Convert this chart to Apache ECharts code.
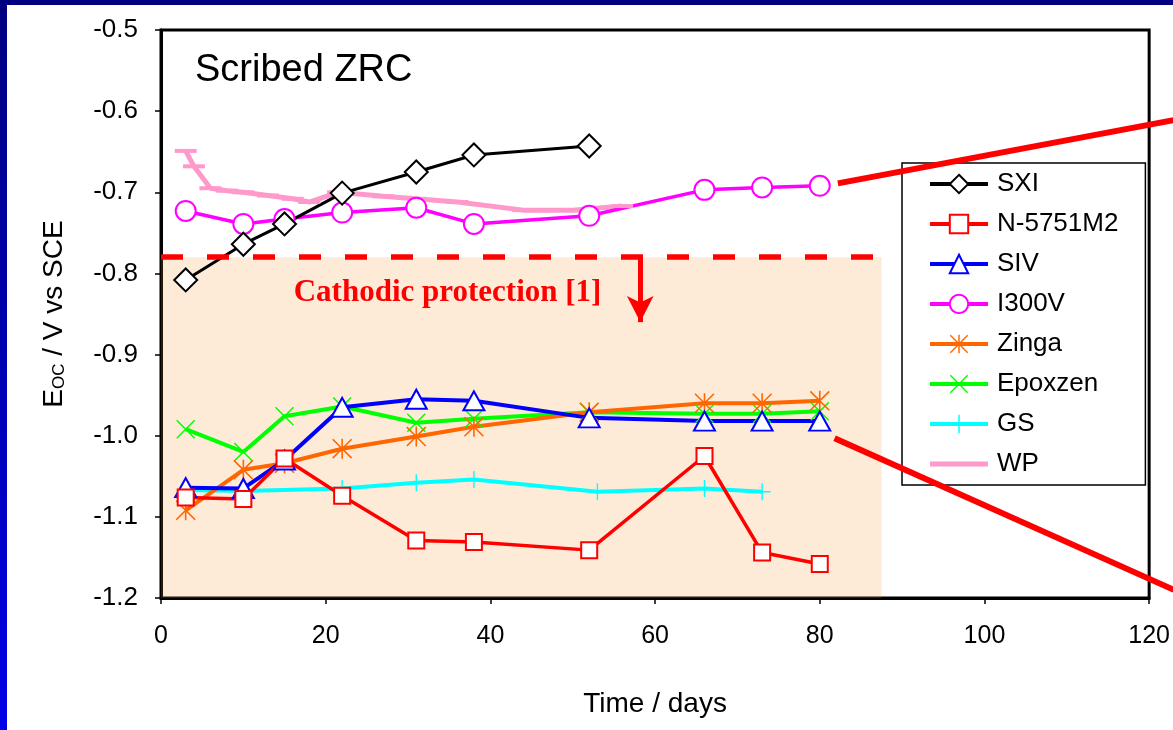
<!DOCTYPE html>
<html>
<head>
<meta charset="utf-8">
<title>Scribed ZRC</title>
<script src="https://cdn.jsdelivr.net/npm/echarts@6/dist/echarts.min.js"></script>
<style>
  html, body { margin: 0; padding: 0; background: #fff; }
  #chart { width: 1173px; height: 730px; }
</style>
</head>
<body>
<div id="chart"></div>
<script>
// open circuit potential vs time, [day, E / V vs SCE]
const sxi = [[3, -0.808], [10, -0.764], [15, -0.739], [22, -0.701], [31, -0.675], [38, -0.654], [52, -0.643]]
const n5751m2 = [[3, -1.076], [10, -1.078], [15, -1.028], [22, -1.074], [31, -1.129], [38, -1.131], [52, -1.141], [66, -1.025], [73, -1.144], [80, -1.158]]
const siv = [[3, -1.064], [10, -1.065], [15, -1.030], [22, -0.965], [31, -0.955], [38, -0.957], [52, -0.978], [66, -0.982], [73, -0.982], [80, -0.982]]
const i300v = [[3, -0.723], [10, -0.739], [15, -0.733], [22, -0.725], [31, -0.719], [38, -0.739], [52, -0.729], [66, -0.697], [73, -0.694], [80, -0.692]]
const zinga = [[3, -1.092], [10, -1.042], [15, -1.034], [22, -1.016], [31, -1.001], [38, -0.989], [52, -0.971], [66, -0.960], [73, -0.960], [80, -0.957]]
const epoxzen = [[3, -0.992], [10, -1.020], [15, -0.976], [22, -0.964], [31, -0.984], [38, -0.979], [52, -0.971], [66, -0.973], [73, -0.973], [80, -0.970]]
const gs = [[3, -1.067], [10, -1.068], [22, -1.065], [31, -1.058], [38, -1.054], [53, -1.069], [66, -1.065], [73, -1.069]]
const wp = [[3, -0.649], [4, -0.668], [6, -0.695], [8, -0.698], [10, -0.700], [13, -0.704], [16, -0.708], [18, -0.712], [21.5, -0.700], [27, -0.705], [36, -0.712], [44, -0.722], [50, -0.722], [56, -0.717]]

const legendNames = ['SXI', 'N-5751M2', 'SIV', 'I300V', 'Zinga', 'Epoxzen', 'GS', 'WP']

// cathodic protection zone
const cpLevel = -0.78
const cpRight = 87.5
const arrowX = 58.2
const arrowEnd = -0.86
const cpLabelAt = [34.8, -0.824]
// zoom callout lines going off to the right
const calloutTop = [[82.2, -0.689], [123, -0.611]]
const calloutBottom = [[81.8, -1.003], [123, -1.19]]

const FONT = 'Liberation Sans, Arial, sans-serif'

// marker shapes (all sub-paths wound the same way)
const ASTER = 'path://M9.2,0H10.8V20H9.2Z M0,1.1L1.1,0L20,18.9L18.9,20Z M18.9,0L20,1.1L1.1,20L0,18.9Z'
const CROSS = 'path://M0,1.1L1.1,0L20,18.9L18.9,20Z M18.9,0L20,1.1L1.1,20L0,18.9Z'
const PLUS = 'path://M9.2,0H10.8V20H9.2Z M0,9.2H20V10.8H0Z'
const DASH = 'path://M0,0H60V5H0Z'

function line(name, data, color, width, symbol, size, hollow) {
  return {
    name: name,
    type: 'line',
    data: data,
    z: 2,
    symbol: symbol,
    symbolSize: size,
    showAllSymbol: true,
    animation: false,
    lineStyle: { color: color, width: width },
    itemStyle: hollow
      ? { color: '#fff', borderColor: color, borderWidth: 2 }
      : { color: color, borderWidth: 0 },
    emphasis: { disabled: true }
  }
}

const chart = echarts.init(document.getElementById('chart'))

const option = {
  backgroundColor: '#fff',
  animation: false,
  grid: {
    left: 161, right: 23, top: 30, bottom: 132,
    show: true, borderColor: '#000', borderWidth: 3, backgroundColor: 'transparent'
  },
  legend: {
    data: legendNames.map(n => n === 'WP' ? { name: n, icon: DASH } : n),
    orient: 'vertical',
    left: 902,
    top: 163,
    padding: [8, 27, 8, 26],
    itemWidth: 58,
    itemHeight: 23,
    itemGap: 14,
    backgroundColor: '#fff',
    borderColor: '#000',
    borderWidth: 1.5,
    selectedMode: false,
    lineStyle: { width: 4 },
    textStyle: { fontFamily: FONT, fontSize: 26, color: '#000', padding: [0, 0, 0, 4] }
  },
  xAxis: {
    type: 'value',
    min: 0,
    max: 120,
    interval: 20,
    name: 'Time / days',
    nameLocation: 'middle',
    nameGap: 92,
    nameTextStyle: { fontFamily: FONT, fontSize: 28, color: '#000' },
    splitLine: { show: false },
    axisLine: { lineStyle: { color: '#000', width: 3 } },
    axisTick: { inside: false, length: 6, lineStyle: { color: '#000', width: 1.5 } },
    axisLabel: { margin: 26, fontFamily: FONT, fontSize: 25, color: '#000' }
  },
  yAxis: {
    type: 'value',
    min: -1.2,
    max: -0.5,
    interval: 0.1,
    name: '{e|E}{s|OC}{e| / V vs SCE}',
    nameLocation: 'middle',
    nameGap: 93,
    nameRotate: 90,
    nameTextStyle: {
      color: '#000',
      rich: {
        e: { fontFamily: FONT, fontSize: 28, color: '#000' },
        s: { fontFamily: FONT, fontSize: 17, color: '#000', verticalAlign: 'bottom' }
      }
    },
    splitLine: { show: false },
    axisLine: { lineStyle: { color: '#000', width: 3 } },
    axisTick: { inside: false, length: 6, lineStyle: { color: '#000', width: 1.5 } },
    axisLabel: {
      margin: 23, fontFamily: FONT, fontSize: 26, color: '#000',
      formatter: v => v.toFixed(1)
    }
  },
  series: [
    line('WP', wp, '#ff99cc', 5, 'rect', [22, 4], false),
    line('GS', gs, '#00ffff', 4, PLUS, 17, false),
    line('Epoxzen', epoxzen, '#00ff00', 4, CROSS, 19, false),
    line('Zinga', zinga, '#ff6600', 4, ASTER, 20, false),
    line('I300V', i300v, '#ff00ff', 3.5, 'circle', 20, true),
    line('SIV', siv, '#0000ff', 4, 'triangle', [21, 19], true),
    line('N-5751M2', n5751m2, '#ff0000', 3.5, 'rect', 16, true),
    line('SXI', sxi, '#000000', 3, 'diamond', 23, true),
    {
      // translucent peach overlay over the cathodic protection zone
      name: 'cpZone',
      type: 'line',
      data: [],
      z: 5,
      silent: true,
      markArea: {
        silent: true,
        itemStyle: { color: 'rgba(249,142,28,0.176)' },
        data: [[{ coord: [0, cpLevel] }, { coord: [cpRight, -1.2] }]]
      }
    },
    {
      name: 'cpMarks',
      type: 'line',
      data: [],
      z: 6,
      silent: true,
      markLine: {
        silent: true,
        symbol: 'none',
        symbolSize: [20, 26],
        label: { show: false },
        data: [
          [
            { coord: [0, cpLevel], lineStyle: { color: '#ff0000', width: 5.5, type: [22, 24] } },
            { coord: [cpRight, cpLevel] }
          ],
          [
            { coord: [arrowX, cpLevel], symbol: 'none', lineStyle: { color: '#ff0000', width: 5, type: 'solid' } },
            { coord: [arrowX, arrowEnd], symbol: 'arrow' }
          ]
        ]
      },
      markPoint: {
        silent: true,
        symbol: 'circle',
        symbolSize: 0,
        data: [{
          coord: cpLabelAt,
          label: {
            show: true,
            position: 'inside',
            formatter: 'Cathodic protection [1]',
            fontFamily: 'Liberation Serif, Times New Roman, serif',
            fontWeight: 'bold',
            fontSize: 31,
            color: '#ff0000'
          }
        }]
      }
    }
  ]
}

chart.setOption(option)

const toPx = p => chart.convertToPixel({ xAxisIndex: 0, yAxisIndex: 0 }, p)
const a = calloutTop.map(toPx)
const b = calloutBottom.map(toPx)

chart.setOption({
  graphic: [
    { type: 'line', z: 20, silent: true, shape: { x1: a[0][0], y1: a[0][1], x2: a[1][0], y2: a[1][1] }, style: { stroke: '#ff0000', lineWidth: 6 } },
    { type: 'line', z: 20, silent: true, shape: { x1: b[0][0], y1: b[0][1], x2: b[1][0], y2: b[1][1] }, style: { stroke: '#ff0000', lineWidth: 6 } },
    {
      type: 'text', z: 20, silent: true, left: 195, top: 52,
      style: { text: 'Scribed ZRC', fontFamily: FONT, fontSize: 38, fill: '#000' }
    },
    // slide frame
    { type: 'rect', z: 30, silent: true, left: 0, top: 0, shape: { width: 1173, height: 5 }, style: { fill: '#000080' } },
    {
      type: 'rect', z: 30, silent: true, left: 0, top: 0, shape: { width: 7, height: 730 },
      style: {
        fill: new echarts.graphic.LinearGradient(0, 0, 0, 1, [
          { offset: 0, color: '#000080' },
          { offset: 1, color: '#0000e6' }
        ])
      }
    }
  ]
})
</script>
</body>
</html>
